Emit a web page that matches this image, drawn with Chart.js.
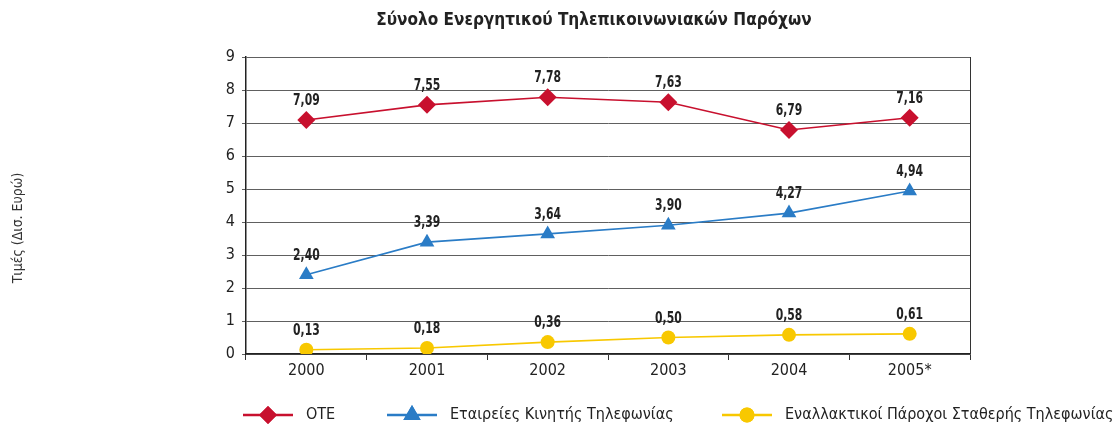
<!DOCTYPE html>
<html>
<head>
<meta charset="utf-8">
<script src="https://cdn.jsdelivr.net/npm/chart.js@4.4.1/dist/chart.umd.min.js"></script>
<style>
	html, body { margin: 0; padding: 0; background: #fff; }
	#wrap { width: 1120px; height: 428px; position: relative; }
</style>
</head>
<body>
<div id="wrap"><canvas id="chart" width="1120" height="428"></canvas></div>
<script>
// --- Data ---
const years = ['2000', '2001', '2002', '2003', '2004', '2005*'];
const oteValues = [7.09, 7.55, 7.78, 7.63, 6.79, 7.16];
const mobileValues = [2.40, 3.39, 3.64, 3.90, 4.27, 4.94];
const fixedAltValues = [0.13, 0.18, 0.36, 0.50, 0.58, 0.61];
const seriesNames = ['ΟΤΕ', 'Εταιρείες Κινητής Τηλεφωνίας', 'Εναλλακτικοί Πάροχοι Σταθερής Τηλεφωνίας'];
const yTicks = [0, 1, 2, 3, 4, 5, 6, 7, 8, 9];
const chartTitle = 'Σύνολο Ενεργητικού Τηλεπικοινωνιακών Παρόχων';
const yTitle = 'Τιμές (Δισ. Ευρώ)';

const FONT = "'DejaVu Sans Condensed', 'DejaVu Sans', sans-serif";
const RED = '#c8102e';
const BLUE = '#2a7cc6';
const YELLOW = '#f8c800';

// title, y title, value labels, frame and legend
const extras = {
	id: 'extras',
	afterDraw(chart) {
		const ctx = chart.ctx;
		const area = chart.chartArea;
		ctx.save();

		// right frame line
		ctx.strokeStyle = '#333';
		ctx.lineWidth = 1;
		ctx.beginPath();
		ctx.moveTo(area.right + 0.5, area.top);
		ctx.lineTo(area.right + 0.5, area.bottom);
		ctx.stroke();

		// title
		ctx.fillStyle = '#222';
		ctx.font = "bold 17px " + FONT;
		ctx.textAlign = 'center';
		ctx.textBaseline = 'middle';
		ctx.fillText(chartTitle, 594, 21);

		// y axis title
		ctx.save();
		ctx.translate(18, 228);
		ctx.rotate(-Math.PI / 2);
		ctx.font = "14px " + FONT;
		ctx.fillStyle = '#333';
		ctx.fillText(yTitle, 0, 0);
		ctx.restore();

		// value labels (squeezed to look condensed)
		ctx.font = "bold 16px " + FONT;
		ctx.fillStyle = '#222';
		chart.data.datasets.forEach((ds, i) => {
			const meta = chart.getDatasetMeta(i);
			meta.data.forEach((pt, j) => {
				const txt = ds.data[j].toFixed(2).replace('.', ',');
				ctx.save();
				ctx.translate(pt.x, pt.y - 19);
				ctx.scale(0.75, 1);
				ctx.fillText(txt, 0, 0);
				ctx.restore();
			});
		});

		// legend
		const legendY = 415;
		const items = [
			{ x: 243, color: RED, style: 'rectRot', r: 9 },
			{ x: 387, color: BLUE, style: 'triangle', r: 10 },
			{ x: 722, color: YELLOW, style: 'circle', r: 7.5 }
		];
		ctx.font = "16px " + FONT;
		ctx.textAlign = 'left';
		items.forEach((it, i) => {
			ctx.strokeStyle = it.color;
			ctx.lineWidth = 2.5;
			ctx.beginPath();
			ctx.moveTo(it.x, legendY);
			ctx.lineTo(it.x + 50, legendY);
			ctx.stroke();
			ctx.fillStyle = it.color;
			Chart.helpers.drawPoint(ctx, { pointStyle: it.style, radius: it.r, borderWidth: 0 }, it.x + 25, legendY);
			ctx.fill();
			ctx.fillStyle = '#222';
			ctx.fillText(seriesNames[i], it.x + 63, legendY);
		});

		ctx.restore();
	}
};

function makeSet(label, data, color, style, radius) {
	return {
		label: label,
		data: data,
		borderColor: color,
		backgroundColor: color,
		borderWidth: 1.6,
		pointStyle: style,
		pointRadius: radius,
		pointHoverRadius: radius,
		pointBorderWidth: 0,
		tension: 0
	};
}

new Chart(document.getElementById('chart'), {
	type: 'line',
	data: {
		labels: years,
		datasets: [
			makeSet(seriesNames[0], oteValues, RED, 'rectRot', 9),
			makeSet(seriesNames[1], mobileValues, BLUE, 'triangle', 8.5),
			makeSet(seriesNames[2], fixedAltValues, YELLOW, 'circle', 7)
		]
	},
	options: {
		responsive: false,
		animation: false,
		layout: { padding: { left: 0, right: 150, top: 57, bottom: 44 } },
		plugins: {
			legend: { display: false },
			tooltip: { enabled: false }
		},
		scales: {
			x: {
				offset: true,
				grid: { offset: true, drawOnChartArea: false, tickLength: 6, color: '#333' },
				border: { color: '#222', width: 1.5 },
				ticks: { color: '#222', font: { family: FONT, size: 16 }, padding: 1 },
				afterFit(s) { s.height = 30; }
			},
			y: {
				min: 0,
				max: 9,
				afterBuildTicks(s) { s.ticks = yTicks.map(v => ({ value: v })); },
				grid: { color: '#606060', lineWidth: 1, tickLength: 4 },
				border: { color: '#222', width: 1.5 },
				ticks: { color: '#222', font: { family: FONT, size: 16 }, padding: 7 },
				afterFit(s) { s.width = 246; }
			}
		}
	},
	plugins: [extras]
});
</script>
</body>
</html>
